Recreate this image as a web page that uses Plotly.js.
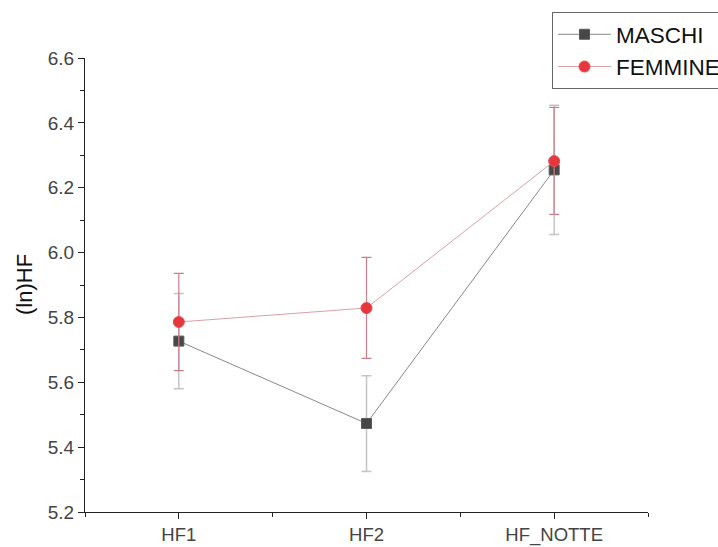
<!DOCTYPE html>
<html>
<head>
<meta charset="utf-8">
<script src="https://cdn.plot.ly/plotly-3.0.1.min.js"></script>
<style>html,body{margin:0;padding:0;background:#fff;}</style>
</head>
<body>
<div id="chart" style="width:718px;height:547px;"></div>
<script>
const categories = ["HF1", "HF2", "HF_NOTTE"];
const maschi = [5.727, 5.473, 6.255];
const maschiErrPlus = [0.147, 0.147, 0.199];
const maschiErrMinus = [0.147, 0.148, 0.199];
const femmine = [5.786, 5.829, 6.282];
const femmineErrPlus = [0.150, 0.156, 0.166];
const femmineErrMinus = [0.150, 0.155, 0.164];
const yTicks = [5.2, 5.4, 5.6, 5.8, 6.0, 6.2, 6.4, 6.6];
const yTitle = "(ln)HF";

const xIdx = categories.map((c, i) => i);

const traces = [
  {
    x: xIdx, y: maschi, name: "MASCHI", type: "scatter", mode: "lines+markers",
    line: {color: "#6a6a6a", width: 0.8},
    marker: {symbol: "square", size: 10, color: "#474747", line: {color: "#5a5a5a", width: 1}},
    error_y: {type: "data", symmetric: false, array: maschiErrPlus, arrayminus: maschiErrMinus,
              color: "#c4c4c4", thickness: 1.5, width: 5}
  },
  {
    x: xIdx, y: femmine, name: "FEMMINE", type: "scatter", mode: "lines+markers",
    line: {color: "#d9a0a8", width: 1},
    marker: {symbol: "circle", size: 11, color: "#e5373c", line: {color: "#e84a4f", width: 1}},
    error_y: {type: "data", symmetric: false, array: femmineErrPlus, arrayminus: femmineErrMinus,
              color: "#cf7d8a", thickness: 1.2, width: 5}
  }
];

const layout = {
  width: 718, height: 547,
  margin: {l: 85, r: 70, t: 58, b: 35, autoexpand: false},
  paper_bgcolor: "#ffffff", plot_bgcolor: "#ffffff",
  font: {family: "Liberation Sans, Arial, sans-serif", color: "#333"},
  showlegend: true,
  legend: {
    x: 0.8295, y: 1.101, xanchor: "left", yanchor: "top",
    bordercolor: "#666", borderwidth: 1, bgcolor: "#ffffff",
    font: {size: 22.5, color: "#111", family: "Liberation Sans, Arial, sans-serif"},
    tracegroupgap: 0, itemwidth: 53
  },
  annotations: [{
    text: yTitle, xref: "paper", yref: "paper", x: -0.1083, y: 0.5,
    xanchor: "center", yanchor: "middle", textangle: -90, showarrow: false,
    font: {size: 22, color: "#111", family: "Liberation Sans, Arial, sans-serif"}
  }],
  xaxis: {
    range: [-0.5, 2.5], tickmode: "array", tickvals: xIdx, ticktext: categories,
    showgrid: false, zeroline: false, showline: true, linecolor: "#222", linewidth: 1,
    ticks: "outside", ticklen: 6, tickcolor: "#222", tickwidth: 1,
    tickfont: {size: 18.5, color: "#444"},
    minor: {tickmode: "array", tickvals: [-0.5, 0.5, 1.5, 2.5], ticks: "outside", ticklen: 4, tickcolor: "#222", showgrid: false},
    fixedrange: true
  },
  yaxis: {
    range: [5.2, 6.6], tickmode: "array", tickvals: yTicks, ticktext: yTicks.map(v => v.toFixed(1)),
    showgrid: false, zeroline: false, showline: true, linecolor: "#222", linewidth: 1,
    ticks: "outside", ticklen: 6, tickcolor: "#222", tickwidth: 1,
    tickfont: {size: 19, color: "#444"},
    minor: {dtick: 0.1, tick0: 5.2, ticks: "outside", ticklen: 4, tickcolor: "#222", showgrid: false},
    fixedrange: true
  }
};

Plotly.newPlot("chart", traces, layout, {displayModeBar: false, staticPlot: true});
</script>
</body>
</html>
